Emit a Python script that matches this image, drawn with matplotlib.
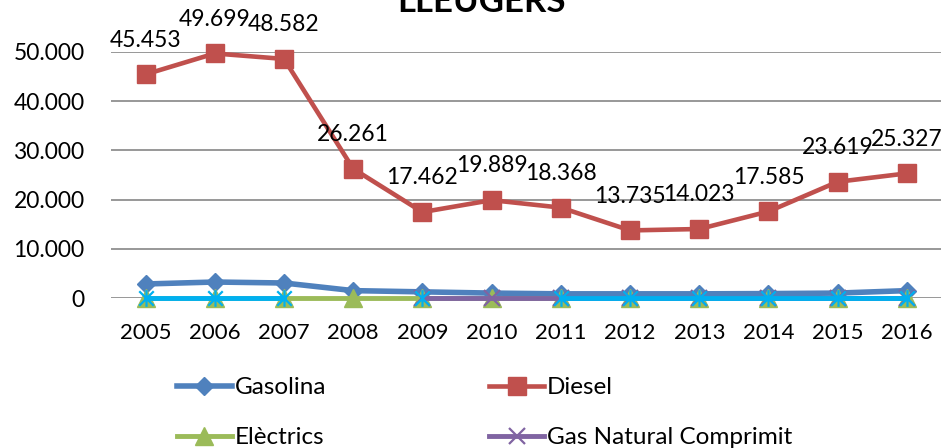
import matplotlib.pyplot as plt
import numpy as np
from matplotlib.path import Path

plt.rcParams['font.family'] = ['Lato', 'DejaVu Sans']

years = [2005, 2006, 2007, 2008, 2009, 2010, 2011, 2012, 2013, 2014, 2015, 2016]
gasolina = [2850, 3250, 3050, 1500, 1250, 1000, 850, 850, 850, 900, 1000, 1500]
diesel = [45453, 49699, 48582, 26261, 17462, 19889, 18368, 13735, 14023, 17585, 23619, 25327]
electrics = [0, 0, 0, 0, 0, 0, 0, 0, 0, 0, 0, 0]
gnc = [np.nan, np.nan, np.nan, np.nan, 0, 0, 0, 0, 0, 0, 0, 0]
altres = [0, 0, 0, np.nan, 0, np.nan, 0, 0, 0, 0, 0, 0]

yticks = [0, 10000, 20000, 30000, 40000, 50000]

# asterisk marker: an x with a vertical stroke through it
star = Path([(-1, -1), (1, 1), (-1, 1), (1, -1), (0, -1.15), (0, 1.15)],
            [Path.MOVETO, Path.LINETO, Path.MOVETO, Path.LINETO, Path.MOVETO, Path.LINETO])

fig = plt.figure(figsize=(9.43, 4.48), dpi=100)
ax = fig.add_axes([0.1177, 0.3348, 0.8807, 0.5492])

x = np.arange(len(years))

l_gas, = ax.plot(x, gasolina, color='#4F81BD', lw=4, marker='D', ms=9, label='Gasolina', clip_on=False)
l_die, = ax.plot(x, diesel, color='#C0504D', lw=3.3, marker='s', ms=13.5, label='Diesel', clip_on=False)
l_ele, = ax.plot(x, electrics, color='#9BBB59', lw=3.5, marker='^', ms=12.5, label='Elèctrics', clip_on=False)
l_gnc, = ax.plot(x, gnc, color='#8064A2', lw=3.5, marker='x', ms=11, mew=1.6,
                 label='Gas Natural Comprimit', clip_on=False)
ax.plot(x, altres, color='#00B0F0', lw=3.5, marker=star, ms=12, mew=1.6, clip_on=False)

for xi, v in zip(x, diesel):
    ax.annotate(f'{v:,}'.replace(',', '.'), (xi, v), xytext=(0, 20), textcoords='offset points',
                ha='center', va='baseline', fontsize=16.5)

ax.set_xlim(-0.5, len(years) - 0.5)
ax.set_ylim(0, 50000)
ax.set_xticks(x)
ax.set_xticklabels(years, fontsize=16)
ax.set_yticks(yticks)
ax.set_yticklabels([f'{v:,}'.replace(',', '.') for v in yticks], fontsize=16.5)
ax.tick_params(axis='y', length=0, pad=19)
ax.tick_params(axis='x', length=0, pad=18)
ax.grid(axis='y', color='#868686', lw=1.2)
ax.set_axisbelow(True)
for s in ax.spines.values():
    s.set_visible(False)

fig.text(0.511, 1 - 12 / 448, 'LLEUGERS', ha='center', va='baseline', fontsize=25, fontweight='bold')

fig.legend([l_gas, l_ele, l_die, l_gnc], ['Gasolina', 'Elèctrics', 'Diesel', 'Gas Natural Comprimit'],
           ncol=2, loc='upper left', bbox_to_anchor=(177 / 943, 1 - 377 / 448), frameon=False,
           fontsize=17.5, numpoints=1, handlelength=2.26, handletextpad=0.12, labelspacing=1.2,
           columnspacing=6.7, borderpad=0, borderaxespad=0)

fig.savefig('out.png', dpi=100)
